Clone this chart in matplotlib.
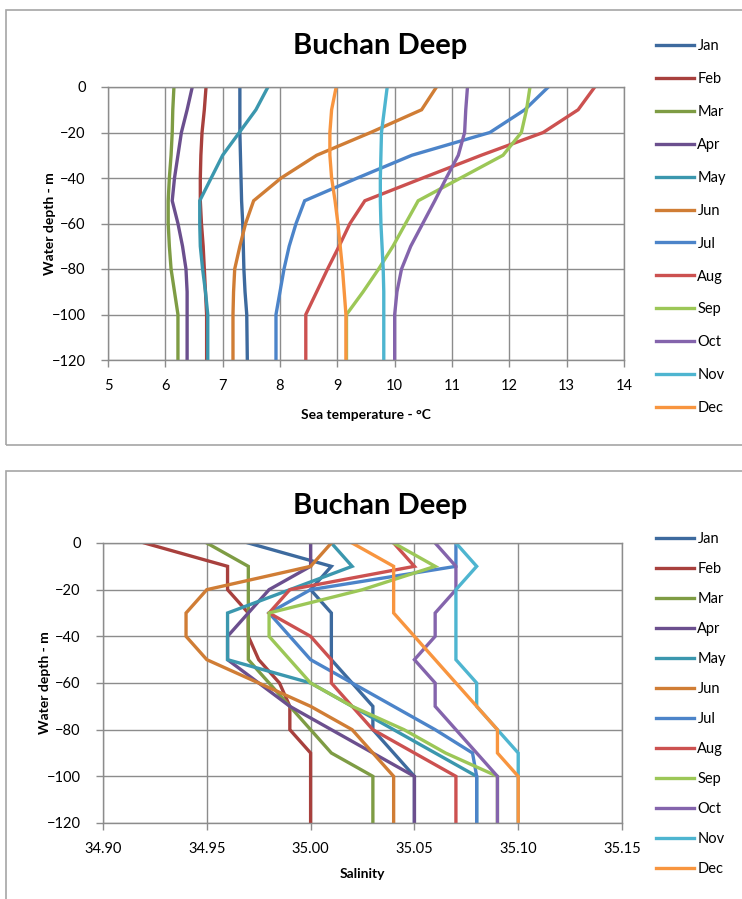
import matplotlib
matplotlib.use("Agg")
import matplotlib.pyplot as plt
from matplotlib.patches import Rectangle

plt.rcParams['font.family'] = ['Lato', 'DejaVu Sans']

months = ['Jan', 'Feb', 'Mar', 'Apr', 'May', 'Jun',
          'Jul', 'Aug', 'Sep', 'Oct', 'Nov', 'Dec']
colors = ['#3d6a9e', '#a8403d', '#7e9c44', '#6b4f8e', '#3b97ae', '#d07d35',
          '#4c84c9', '#cc5150', '#9cc757', '#8464ac', '#4eb5d0', '#f8953f']

depth = [0, -10, -20, -30, -40, -50, -60, -70, -80, -90, -100, -120]

# monthly temperature profiles (deg C)
temp_jan = [7.30, 7.30, 7.30, 7.31, 7.32, 7.33, 7.35, 7.36, 7.37, 7.39, 7.42, 7.43]
temp_feb = [6.71, 6.68, 6.64, 6.62, 6.61, 6.61, 6.63, 6.66, 6.68, 6.70, 6.72, 6.72]
temp_mar = [6.15, 6.13, 6.12, 6.10, 6.07, 6.05, 6.05, 6.07, 6.10, 6.16, 6.22, 6.22]
temp_apr = [6.47, 6.38, 6.28, 6.22, 6.16, 6.12, 6.22, 6.30, 6.36, 6.38, 6.38, 6.38]
temp_may = [7.79, 7.58, 7.29, 7.00, 6.80, 6.60, 6.60, 6.61, 6.65, 6.70, 6.74, 6.74]
temp_jun = [10.73, 10.47, 9.58, 8.64, 8.02, 7.54, 7.40, 7.30, 7.21, 7.19, 7.18, 7.18]
temp_jul = [12.68, 12.27, 11.66, 10.30, 9.35, 8.43, 8.28, 8.16, 8.07, 8.00, 7.93, 7.93]
temp_aug = [13.49, 13.20, 12.59, 11.51, 10.49, 9.48, 9.22, 9.03, 8.83, 8.64, 8.45, 8.45]
temp_sep = [12.36, 12.30, 12.21, 11.89, 11.15, 10.41, 10.19, 9.97, 9.72, 9.45, 9.16, 9.16]
temp_oct = [11.27, 11.24, 11.22, 11.11, 10.90, 10.70, 10.49, 10.28, 10.12, 10.04, 10.00, 10.00]
temp_nov = [9.87, 9.82, 9.77, 9.76, 9.75, 9.75, 9.76, 9.78, 9.80, 9.81, 9.81, 9.81]
temp_dec = [8.98, 8.90, 8.87, 8.87, 8.90, 8.96, 9.01, 9.05, 9.09, 9.12, 9.15, 9.15]

# monthly salinity profiles
sal_jan = [34.97, 35.01, 35.00, 35.01, 35.01, 35.01, 35.02, 35.03, 35.03, 35.04, 35.05, 35.05]
sal_feb = [34.92, 34.96, 34.96, 34.97, 34.97, 34.975, 34.985, 34.99, 34.99, 35.00, 35.00, 35.00]
sal_mar = [34.95, 34.97, 34.97, 34.97, 34.97, 34.97, 34.98, 34.99, 35.00, 35.01, 35.03, 35.03]
sal_apr = [35.00, 35.00, 34.98, 34.97, 34.96, 34.96, 34.975, 34.99, 35.01, 35.03, 35.05, 35.05]
sal_may = [35.01, 35.02, 34.99, 34.96, 34.96, 34.96, 35.00, 35.02, 35.04, 35.06, 35.08, 35.08]
sal_jun = [35.01, 35.00, 34.95, 34.94, 34.94, 34.95, 34.975, 35.00, 35.02, 35.03, 35.04, 35.04]
sal_jul = [35.07, 35.07, 35.00, 34.98, 34.99, 35.00, 35.02, 35.04, 35.06, 35.078, 35.08, 35.08]
sal_aug = [35.04, 35.05, 34.99, 34.98, 35.00, 35.01, 35.01, 35.02, 35.03, 35.05, 35.07, 35.07]
sal_sep = [35.04, 35.06, 35.025, 34.98, 34.98, 34.99, 35.00, 35.02, 35.045, 35.065, 35.09, 35.09]
sal_oct = [35.06, 35.07, 35.07, 35.06, 35.06, 35.05, 35.06, 35.06, 35.07, 35.08, 35.09, 35.09]
sal_nov = [35.07, 35.08, 35.07, 35.07, 35.07, 35.07, 35.08, 35.08, 35.09, 35.10, 35.10, 35.10]
sal_dec = [35.02, 35.04, 35.04, 35.04, 35.05, 35.06, 35.07, 35.08, 35.09, 35.09, 35.10, 35.10]

temps = [temp_jan, temp_feb, temp_mar, temp_apr, temp_may, temp_jun,
         temp_jul, temp_aug, temp_sep, temp_oct, temp_nov, temp_dec]
sals = [sal_jan, sal_feb, sal_mar, sal_apr, sal_may, sal_jun,
        sal_jul, sal_aug, sal_sep, sal_oct, sal_nov, sal_dec]

W, H = 742, 899
fig = plt.figure(figsize=(W / 100, H / 100), dpi=100)
fig.patch.set_facecolor('white')

# chart area frames
for y0, y1 in [(10, 445), (471, 960)]:
    fig.patches.append(Rectangle((6 / W, 1 - y1 / H), 2.0, (y1 - y0) / H,
                                 transform=fig.transFigure, fill=False,
                                 edgecolor='#a6a6a6', lw=1.2))

grid_col = '#8c8c8c'


def style_axes(ax):
    ax.grid(True, color=grid_col, lw=1.0)
    ax.set_axisbelow(True)
    for s in ax.spines.values():
        s.set_color(grid_col)
        s.set_linewidth(1.0)
    ax.tick_params(axis='both', colors=grid_col, length=5, width=1.0,
                   labelcolor='black', labelsize=10.5)
    ax.tick_params(axis='x', pad=9)
    ax.tick_params(axis='y', pad=11)


# temperature chart
ax1 = fig.add_axes([108 / W, 1 - 360 / H, 516 / W, 273 / H])
for m, t, c in zip(months, temps, colors):
    ax1.plot(t, depth, color=c, lw=2.4, label=m, solid_joinstyle='miter')
ax1.set_xlim(5, 14)
ax1.set_ylim(-120, 0)
ax1.set_xticks(range(5, 15))
ax1.set_yticks(range(-120, 1, 20))
style_axes(ax1)
ax1.set_xlabel('Sea temperature - °C', fontsize=10, fontweight='bold', labelpad=11)
ax1.set_ylabel('Water depth - m', fontsize=10, fontweight='bold', labelpad=-3)
fig.text(380 / W, 1 - 46 / H, 'Buchan Deep', ha='center', va='center',
         fontsize=21, fontweight='bold')
ax1.legend(loc='upper left', bbox_to_anchor=(650 / W, 1 - 33 / H),
           bbox_transform=fig.transFigure, frameon=False, fontsize=10.5,
           handlelength=2.6, handletextpad=0.25, labelspacing=1.30,
           borderaxespad=0)

# salinity chart
ax2 = fig.add_axes([103 / W, 1 - 823 / H, 519 / W, 280 / H])
for m, s, c in zip(months, sals, colors):
    ax2.plot(s, depth, color=c, lw=2.4, label=m, solid_joinstyle='miter')
ax2.set_xlim(34.90, 35.15)
ax2.set_ylim(-120, 0)
ax2.set_xticks([34.90, 34.95, 35.00, 35.05, 35.10, 35.15])
ax2.set_xticklabels(['34.90', '34.95', '35.00', '35.05', '35.10', '35.15'])
ax2.set_yticks(range(-120, 1, 20))
style_axes(ax2)
ax2.set_xlabel('Salinity', fontsize=10, fontweight='bold', labelpad=8)
ax2.set_ylabel('Water depth - m', fontsize=10, fontweight='bold', labelpad=-3)
fig.text(380 / W, 1 - 506 / H, 'Buchan Deep', ha='center', va='center',
         fontsize=21, fontweight='bold')
ax2.legend(loc='upper left', bbox_to_anchor=(650 / W, 1 - 526 / H),
           bbox_transform=fig.transFigure, frameon=False, fontsize=10.5,
           handlelength=2.6, handletextpad=0.25, labelspacing=1.10,
           borderaxespad=0)

fig.savefig('out.png', dpi=100)
